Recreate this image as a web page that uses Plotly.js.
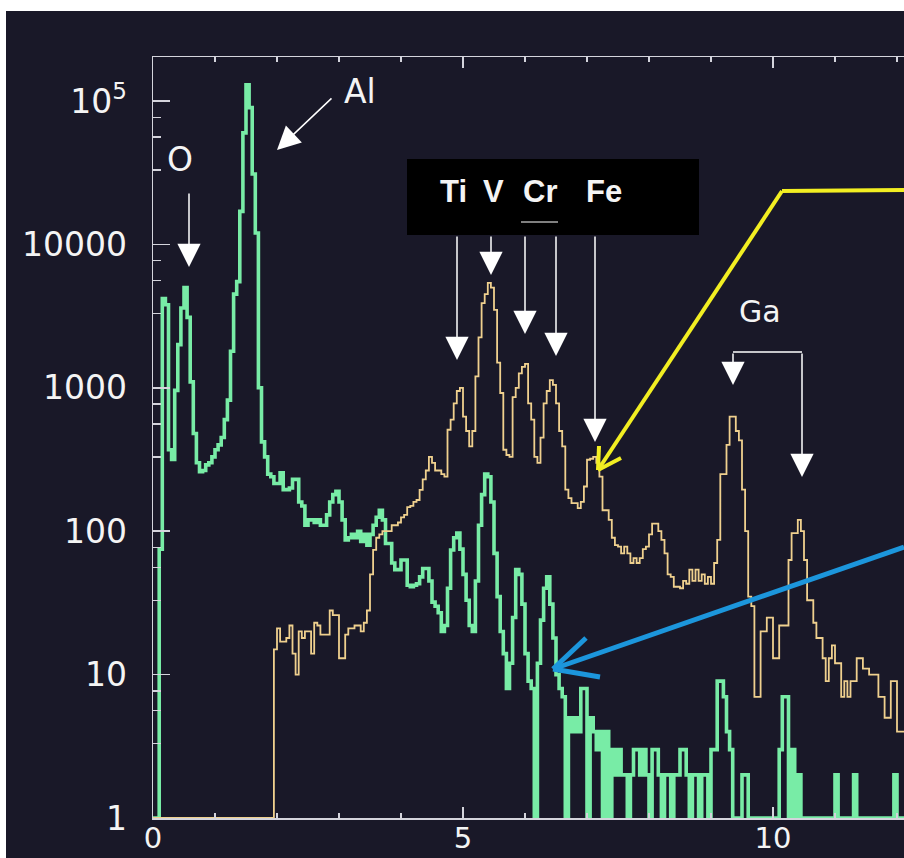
<!DOCTYPE html>
<html><head><meta charset="utf-8">
<script src="https://cdn.plot.ly/plotly-3.0.1.min.js"></script>
<style>
html,body{margin:0;padding:0;background:#ffffff;overflow:hidden;}
#chart{position:absolute;left:6px;top:11px;width:898px;height:847px;}
</style></head><body><div id="chart"></div>
<script>
// channel energies (keV): first channel edge and channel width
const channelStart = 0;
const channelWidth = 0.05;

// green spectrum counts per channel
const countsGreen = [
  1, 1, 75, 4200, 3800, 370, 316, 960, 2000, 3600,
  5000, 3100, 1100, 480, 300, 260, 265, 290, 300, 330,
  370, 400, 450, 600, 820, 1800, 4500, 5500, 17000, 60000,
  130000, 90000, 31000, 12000, 1000, 420, 330, 250, 240, 215,
  215, 255, 195, 195, 200, 230, 230, 160, 150, 110,
  120, 120, 115, 120, 110, 110, 130, 160, 180, 190,
  160, 120, 87, 90, 95, 90, 100, 85, 95, 80,
  95, 110, 125, 140, 120, 82, 82, 60, 54, 54,
  63, 63, 42, 41, 42, 43, 48, 55, 55, 45,
  32, 30, 27, 20, 22, 40, 74, 90, 97, 75,
  50, 33, 22, 20, 45, 110, 180, 250, 240, 160,
  70, 35, 20, 14, 8, 12, 25, 54, 50, 31,
  14, 9, 8, 1, 12, 24, 40, 48, 31, 18,
  10, 8, 7, 1, 5, 4, 5, 4, 8, 8,
  1, 5, 4, 3, 4, 1, 4, 1, 3, 2,
  3, 2, 2, 1, 2, 3, 3, 2, 3, 2,
  1, 3, 3, 2, 1, 2, 2, 1, 2, 2,
  3, 3, 2, 1, 2, 2, 1, 2, 2, 1,
  3, 3, 9, 9, 7, 4, 3, 1, 1, 1,
  2, 2, 1, 1, 1, 1, 1, 1, 1, 1,
  1, 1, 3, 7, 7, 1, 3, 1, 2, 1,
  1, 1, 1, 1, 1, 1, 1, 1, 1, 1,
  2, 1, 1, 1, 1, 1, 2, 1, 1, 1,
  1, 1, 1, 1, 1, 1, 1, 1, 1, 2,
  1, 1, 1, 1
];

// orange spectrum counts per channel
const countsOrange = [
  1, 1, 1, 1, 1, 1, 1, 1, 1, 1,
  1, 1, 1, 1, 1, 1, 1, 1, 1, 1,
  1, 1, 1, 1, 1, 1, 1, 1, 1, 1,
  1, 1, 1, 1, 1, 1, 1, 1, 1, 15,
  21, 17, 17, 18, 22, 14, 10, 20, 18, 20,
  20, 14, 23, 22, 19, 19, 19, 28, 26, 26,
  13, 13, 19, 21, 21, 22, 22, 20, 23, 28,
  50, 74, 90, 95, 100, 100, 100, 110, 110, 115,
  125, 130, 147, 150, 160, 165, 194, 230, 265, 330,
  300, 265, 265, 250, 240, 510, 600, 780, 950, 1000,
  630, 500, 390, 500, 1200, 2250, 3900, 4500, 5400, 5000,
  3500, 1500, 920, 370, 340, 330, 860, 1000, 1260, 1400,
  1470, 780, 600, 330, 300, 450, 780, 950, 1130, 1050,
  780, 500, 390, 195, 170, 157, 157, 145, 160, 205,
  315, 320, 330, 300, 240, 140, 140, 120, 90, 80,
  78, 70, 78, 70, 60, 65, 60, 65, 75, 78,
  95, 113, 113, 100, 87, 70, 50, 48, 41, 41,
  40, 45, 43, 54, 45, 54, 45, 50, 43, 48,
  43, 60, 87, 250, 250, 400, 630, 630, 500, 430,
  195, 100, 35, 30, 7, 7, 20, 20, 25, 25,
  13, 13, 22, 22, 22, 63, 97, 97, 120, 100,
  63, 33, 33, 23, 18, 18, 13, 9, 13, 16,
  12, 12, 7, 9, 7, 9, 9, 13, 13, 11,
  11, 10, 10, 10, 7, 7, 5, 5, 9, 9,
  4, 4, 4, 4
];

const yTickVals = [1, 10, 100, 1000, 10000, 100000];
const yTickText = ['1', '10', '100', '1000', '10000', '10<sup>5</sup>'];
const yMinorVals = [3.3, 5.6, 7.7, 33, 56, 77, 330, 560, 770, 3300, 5600, 7700, 33000, 56000, 77000];
const xTickVals = [0, 5, 10];
const xTickText = ['0', '5', '10'];

const elementLabels = ['O', 'Al', 'Ga'];
const boxLabels = ['Ti', 'V', 'Cr', 'Fe'];

// plot-area pixel frame (page coordinates) for placing decorations
const PL = 153, PR = 904, PT = 57, PB = 818;
const fx = p => (p - PL) / (PR - PL);
const fy = p => (PB - p) / (PB - PT);

const BG = '#191828';
const AX = '#d4d4dc';
const WHITE = '#f4f4f4';
const YELLOW = '#f2ee22';
const BLUE = '#1c96dc';

const traces = [
  {type: 'scatter', mode: 'lines', x0: channelStart, dx: channelWidth, y: countsGreen,
   line: {shape: 'hv', color: '#78eca6', width: 3.6}, hoverinfo: 'skip'},
  {type: 'scatter', mode: 'lines', x0: channelStart, dx: channelWidth, y: countsOrange,
   line: {shape: 'hv', color: '#efd08e', width: 1.8}, hoverinfo: 'skip'}
];

function whiteArrow(tipX, tipY, tailX, tailY) {
  return {xref: 'paper', yref: 'paper', x: fx(tipX), y: fy(tipY),
    ax: tailX - tipX, ay: tailY - tipY, text: '', showarrow: true,
    arrowhead: 2, arrowsize: 3.1, arrowwidth: 1.5, arrowcolor: '#ffffff', standoff: 0};
}
function label(t, cx, cy, size, fam, weight) {
  return {xref: 'paper', yref: 'paper', x: fx(cx), y: fy(cy), text: t, showarrow: false,
    xanchor: 'center', yanchor: 'middle',
    font: {family: fam, size: size, color: WHITE, weight: weight || 'normal'}};
}
function seg(x0, y0, x1, y1, color, width) {
  return {type: 'line', xref: 'paper', yref: 'paper', x0: fx(x0), y0: fy(y0), x1: fx(x1), y1: fy(y1),
    line: {color: color, width: width}, layer: 'above'};
}

const annotations = [
  label(elementLabels[0], 180, 159, 33, 'DejaVu Sans'),
  label(elementLabels[1], 360, 91, 33, 'DejaVu Sans'),
  label(elementLabels[2], 760, 311, 30, 'DejaVu Sans'),
  label(boxLabels[0], 453, 191, 31, 'Liberation Sans', 'bold'),
  label(boxLabels[1], 493, 191, 31, 'Liberation Sans', 'bold'),
  label(boxLabels[2], 540, 191, 31, 'Liberation Sans', 'bold'),
  label(boxLabels[3], 604, 191, 31, 'Liberation Sans', 'bold'),
  whiteArrow(189, 267, 189, 192),
  whiteArrow(277, 150, 333, 97),
  whiteArrow(457, 360, 457, 235),
  whiteArrow(491, 275, 491, 235),
  whiteArrow(525, 334, 525, 235),
  whiteArrow(556, 356, 556, 235),
  whiteArrow(595, 442, 595, 235),
  whiteArrow(733, 385, 733, 352),
  whiteArrow(802, 477, 802, 352)
];

const shapes = [
  {type: 'rect', xref: 'paper', yref: 'paper', x0: fx(407), x1: fx(699), y0: fy(235), y1: fy(159),
   fillcolor: '#000000', line: {width: 0}, layer: 'above'},
  seg(521, 222, 558, 222, '#ffffff', 1),
  seg(733, 352, 802, 352, '#ffffff', 1.5),
  // yellow pointer: bent line with open head
  seg(904, 190, 782, 191, YELLOW, 4),
  seg(782, 191, 598, 470, YELLOW, 4),
  seg(598, 470, 621, 458, YELLOW, 4),
  seg(598, 470, 599, 446, YELLOW, 4),
  // blue pointer with open head
  seg(904, 547, 553, 669, BLUE, 5),
  seg(553, 669, 600, 677, BLUE, 5),
  seg(553, 669, 586, 638, BLUE, 5)
];

const layout = {
  width: 898, height: 847,
  margin: {l: 147, r: 0, t: 46, b: 40},
  paper_bgcolor: BG, plot_bgcolor: BG,
  showlegend: false,
  xaxis: {
    range: [0, (PR - PL) / 62], tickmode: 'array', tickvals: xTickVals, ticktext: xTickText,
    ticks: 'inside', ticklen: 11, tickwidth: 1.5, tickcolor: AX,
    showline: true, linecolor: AX, linewidth: 1.5, mirror: 'ticks',
    showgrid: false, zeroline: false, ticklabelstandoff: -6,
    tickfont: {family: 'DejaVu Sans', size: 29, color: WHITE},
    minor: {dtick: 1, ticks: 'inside', ticklen: 5, tickwidth: 1.5, tickcolor: AX, showgrid: false}
  },
  yaxis: {
    type: 'log', range: [0, 5.307], tickmode: 'array', tickvals: yTickVals, ticktext: yTickText,
    ticks: 'inside', ticklen: 17, tickwidth: 1.5, tickcolor: AX,
    showline: true, linecolor: AX, linewidth: 1.5,
    showgrid: false, zeroline: false, ticklabelstandoff: 18,
    tickfont: {family: 'DejaVu Sans', size: 33, color: WHITE},
    minor: {tickmode: 'array', tickvals: yMinorVals, ticks: 'inside', ticklen: 8, tickwidth: 1.5,
            tickcolor: AX, showgrid: false}
  },
  annotations: annotations,
  shapes: shapes
};

Plotly.newPlot('chart', traces, layout, {staticPlot: true, displayModeBar: false});
</script>
</body></html>
